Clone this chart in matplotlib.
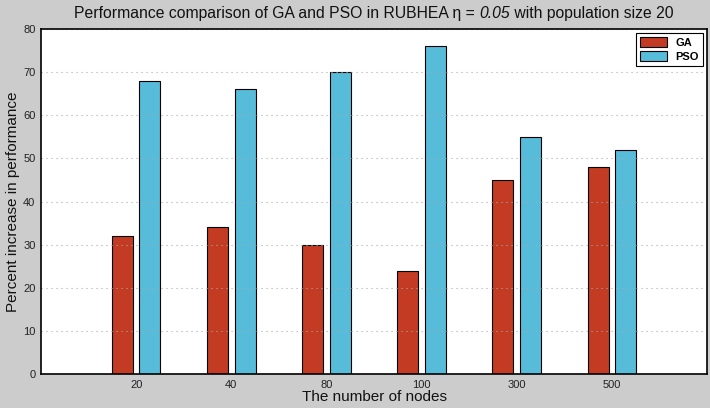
import numpy as np
import matplotlib
matplotlib.use('Agg')
import matplotlib.pyplot as plt
from matplotlib.offsetbox import TextArea, HPacker, AnnotationBbox

plt.rcParams['font.family'] = ['Liberation Sans', 'DejaVu Sans']

nodes = ['20', '40', '80', '100', '300', '500']
ga = [32, 34, 30, 24, 45, 48]
pso = [68, 66, 70, 76, 55, 52]

x = np.arange(1, len(nodes) + 1)
w = 0.22

fig = plt.figure(figsize=(7.1, 4.08), dpi=100, facecolor='#cccccc')
ax = fig.add_axes([41/710, 34/408, 666/710, 345/408])
ax.set_facecolor('white')

ax.bar(x - 0.145, ga, w, color='#c23b22', edgecolor='black', linewidth=0.8, label='GA', zorder=2)
ax.bar(x + 0.145, pso, w, color='#56bcd9', edgecolor='black', linewidth=0.8, label='PSO', zorder=2)

ax.set_xlim(0, 7)
ax.set_ylim(0, 80)
ax.set_xticks(x)
ax.set_xticklabels(nodes)
ax.set_yticks(range(0, 81, 10))
ax.tick_params(labelsize=8, length=0, pad=4, labelcolor='#222222')
ax.yaxis.grid(True, linestyle=(0, (1, 3.5)), color='#aaaaaa', linewidth=0.8, zorder=3)
ax.set_axisbelow(False)
for s in ax.spines.values():
    s.set_linewidth(1.2)
    s.set_zorder(4)

ax.set_xlabel('The number of nodes', fontsize=11, color='#111111')
ax.set_ylabel('Percent increase in performance', fontsize=11, color='#111111')
ax.xaxis.set_label_coords(0.5, -0.046)
ax.yaxis.set_label_coords(-0.031, 0.5)

# title with italic 0.05
tp = dict(fontsize=11.3, color='#111111')
parts = [TextArea('Performance comparison of GA and PSO in RUBHEA \u03b7 = ', textprops=tp),
         TextArea('0.05', textprops=dict(tp, style='italic')),
         TextArea(' with population size 20', textprops=tp)]
box = HPacker(children=parts, pad=0, sep=0, align='baseline')
ab = AnnotationBbox(box, (0.5, 1.0), xycoords='axes fraction', xybox=(0, 11.5),
                    boxcoords='offset points', frameon=False, box_alignment=(0.5, 0.5))
ax.add_artist(ab)

leg = ax.legend(loc='upper right', prop={'weight': 'bold', 'size': 8}, fancybox=False,
                edgecolor='black', framealpha=1, handlelength=2.4, handleheight=1.0,
                borderpad=0.35, labelspacing=0.3, borderaxespad=0.35)
leg.get_frame().set_linewidth(0.8)
leg.set_zorder(5)

fig.savefig('out.png', dpi=100, facecolor=fig.get_facecolor())
